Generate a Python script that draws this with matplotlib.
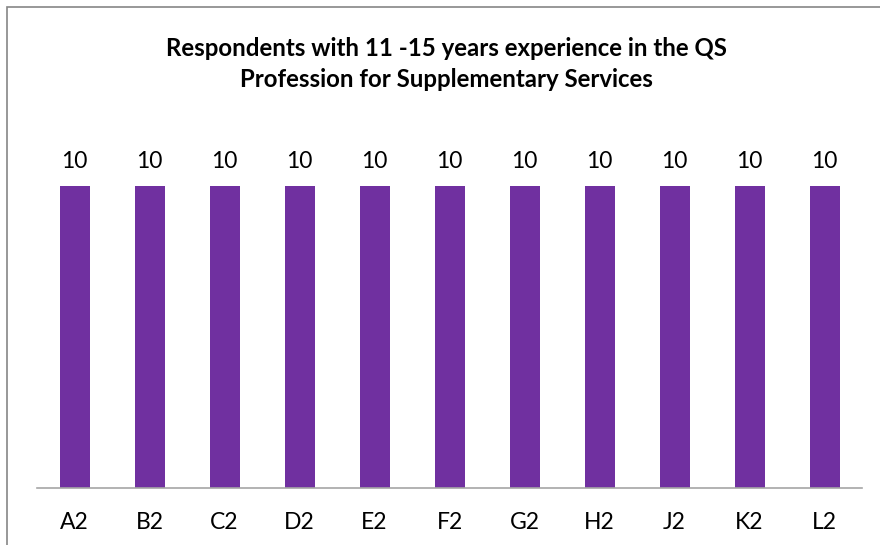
import matplotlib
matplotlib.use("Agg")
import matplotlib.pyplot as plt
import matplotlib.patches as patches

categories = ["A2", "B2", "C2", "D2", "E2", "F2", "G2", "H2", "J2", "K2", "L2"]
values = [10, 10, 10, 10, 10, 10, 10, 10, 10, 10, 10]
title = "Respondents with 11 -15 years experience in the QS\nProfession for Supplementary Services"

plt.rcParams['font.family'] = ['Lato', 'DejaVu Sans']

W, H = 880, 545
fig = plt.figure(figsize=(W / 100, H / 100), dpi=100)

# outer chart border (cut off on right and bottom like the screenshot)
border = patches.Rectangle((7 / W, -0.1), 1.2, (H - 7) / H + 0.1, transform=fig.transFigure,
                           fill=False, edgecolor="#868686", linewidth=1.2)
fig.patches.append(border)

ax = fig.add_axes([37 / W, 1 - 488 / H, (862 - 37) / W, (488 - 150) / H])
x = range(len(categories))
ax.bar(x, values, width=0.4, color="#7030A0")
ax.set_xlim(-0.5, len(categories) - 0.5)
ax.set_ylim(0, 10 * 338 / 302)

for xi, v in zip(x, values):
    ax.text(xi, v + 0.45, str(v), ha="center", va="bottom", fontsize=16.5, color="black")

ax.set_xticks(list(x))
ax.set_xticklabels(categories, fontsize=16.5)
ax.tick_params(axis="x", length=0, pad=17)
ax.set_yticks([])
for s in ["top", "right", "left"]:
    ax.spines[s].set_visible(False)
ax.spines["bottom"].set_color("#a6a6a6")
ax.spines["bottom"].set_linewidth(1.2)

fig.text(446 / W, 1 - 64 / H, title, ha="center", va="center", fontsize=17.3,
         fontweight="bold", linespacing=1.42)

fig.savefig("out.png", dpi=100)
